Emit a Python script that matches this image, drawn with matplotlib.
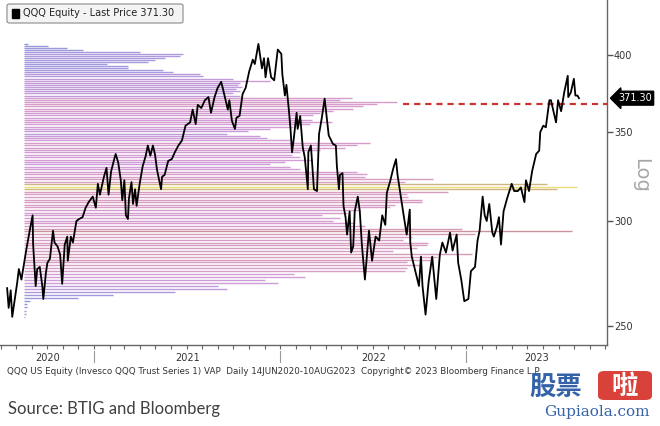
import numpy as np
import pandas as pd
import matplotlib
matplotlib.use("Agg")
import matplotlib.pyplot as plt
import matplotlib.dates as mdates
from matplotlib.colors import LinearSegmentedColormap, Normalize
from matplotlib.patches import FancyBboxPatch, Rectangle
from matplotlib.ticker import NullLocator, FixedLocator

# ----------------------------
# Data
# ----------------------------
price_dates = [
    "2020-07-14", "2020-07-17", "2020-07-21", "2020-07-24", "2020-07-29", "2020-08-03", "2020-08-06", "2020-08-11",
    "2020-08-17", "2020-08-21", "2020-08-28", "2020-09-02", "2020-09-03", "2020-09-08", "2020-09-11", "2020-09-16",
    "2020-09-21", "2020-09-23", "2020-09-28", "2020-10-01", "2020-10-06", "2020-10-12", "2020-10-15", "2020-10-21",
    "2020-10-26", "2020-10-30", "2020-11-04", "2020-11-09", "2020-11-10", "2020-11-16", "2020-11-20", "2020-11-27",
    "2020-12-02", "2020-12-09", "2020-12-15", "2020-12-21", "2020-12-29",
    "2021-01-04", "2021-01-08", "2021-01-12", "2021-01-20", "2021-01-25", "2021-01-29", "2021-02-03", "2021-02-10",
    "2021-02-12", "2021-02-17", "2021-02-22", "2021-02-25", "2021-03-01", "2021-03-04", "2021-03-08", "2021-03-10",
    "2021-03-15", "2021-03-18", "2021-03-22", "2021-03-25", "2021-03-31", "2021-04-06", "2021-04-12", "2021-04-16",
    "2021-04-21", "2021-04-26", "2021-04-30", "2021-05-04", "2021-05-12", "2021-05-14", "2021-05-19", "2021-05-26",
    "2021-06-02", "2021-06-08", "2021-06-15", "2021-06-22", "2021-06-29", "2021-07-08", "2021-07-13", "2021-07-19",
    "2021-07-23", "2021-07-30", "2021-08-06", "2021-08-13", "2021-08-18", "2021-08-25", "2021-08-31", "2021-09-07",
    "2021-09-10", "2021-09-20", "2021-09-23", "2021-09-28", "2021-10-04", "2021-10-07", "2021-10-13", "2021-10-19",
    "2021-10-25", "2021-11-01", "2021-11-08", "2021-11-12", "2021-11-19", "2021-11-26", "2021-11-30", "2021-12-03",
    "2021-12-08", "2021-12-14", "2021-12-20", "2021-12-27",
    "2022-01-03", "2022-01-05", "2022-01-10", "2022-01-13", "2022-01-18", "2022-01-21", "2022-01-24", "2022-01-27",
    "2022-02-02", "2022-02-04", "2022-02-09", "2022-02-14", "2022-02-18", "2022-02-24", "2022-02-25", "2022-03-02",
    "2022-03-08", "2022-03-14", "2022-03-18", "2022-03-23", "2022-03-29", "2022-04-01", "2022-04-06", "2022-04-11",
    "2022-04-14", "2022-04-20", "2022-04-22", "2022-04-26", "2022-04-28", "2022-05-03", "2022-05-05", "2022-05-09",
    "2022-05-12", "2022-05-17", "2022-05-20", "2022-05-24", "2022-05-27", "2022-06-02", "2022-06-06", "2022-06-10",
    "2022-06-16", "2022-06-24", "2022-06-30", "2022-07-07", "2022-07-14", "2022-07-20", "2022-07-26", "2022-07-29",
    "2022-08-05", "2022-08-10", "2022-08-16", "2022-08-19", "2022-08-26", "2022-08-31", "2022-09-06", "2022-09-12",
    "2022-09-13", "2022-09-16", "2022-09-23", "2022-09-30", "2022-10-04", "2022-10-07", "2022-10-13", "2022-10-19",
    "2022-10-26", "2022-11-03", "2022-11-10", "2022-11-15", "2022-11-22", "2022-11-30", "2022-12-05", "2022-12-13",
    "2022-12-16", "2022-12-22", "2022-12-28",
    "2023-01-05", "2023-01-10", "2023-01-18", "2023-01-23", "2023-01-27", "2023-02-02", "2023-02-06", "2023-02-10",
    "2023-02-15", "2023-02-21", "2023-02-24", "2023-03-02", "2023-03-06", "2023-03-10", "2023-03-15", "2023-03-22",
    "2023-03-31", "2023-04-05", "2023-04-12", "2023-04-18", "2023-04-25", "2023-04-28", "2023-05-04", "2023-05-10",
    "2023-05-18", "2023-05-24", "2023-05-26", "2023-06-01", "2023-06-06", "2023-06-13", "2023-06-16", "2023-06-23",
    "2023-06-26", "2023-06-30", "2023-07-06", "2023-07-12", "2023-07-19", "2023-07-20", "2023-07-25", "2023-07-31",
    "2023-08-03", "2023-08-07", "2023-08-10",
]
price_close = [
    267, 258, 266, 254, 262, 270, 276, 271,
    280, 286, 296, 303, 288, 268, 276, 277,
    268, 262, 274, 279, 281, 295, 289, 287,
    283, 269, 288, 292, 280, 292, 289, 300,
    301, 302, 307, 310, 313,
    307, 320, 314, 324, 329, 314, 327, 335,
    337, 332, 322, 311, 322, 303, 301, 312,
    321, 309, 317, 308, 320, 330, 336, 342,
    336, 342, 337, 328, 317, 324, 325, 333,
    334, 338, 342, 345, 354, 356, 364, 355,
    367, 365, 370, 372, 362, 372, 378, 382,
    378, 364, 370, 357, 352, 359, 360, 374,
    378, 389, 397, 394, 408, 391, 398, 385,
    398, 385, 383, 404,
    401, 387, 373, 380, 363, 352, 338, 345,
    362, 352, 360, 341, 335, 317, 338, 342,
    317, 316, 349, 358, 371, 362, 348, 345,
    343, 342, 330, 317, 325, 326, 308, 302,
    293, 305, 284, 287, 305, 313, 305, 288,
    271, 295, 280, 292, 290, 303, 298, 315,
    322, 328, 334, 325, 312, 303, 293, 306,
    289, 282, 275, 268, 282, 268, 255, 270,
    282, 262, 283, 289, 284, 294, 285, 293,
    279, 271, 261,
    262, 275, 277, 290, 295, 313, 303, 300,
    309, 294, 292, 297, 302, 288, 305, 312,
    320, 316, 316, 318, 310, 322, 316, 327,
    337, 339, 350, 354, 353, 370, 370, 360,
    356, 370, 363, 375, 386, 372, 375, 384,
    373, 373, 371.30,
]

last_price = 371.30
level_line = 367.5

# volume-at-price profile: bins of 1.4 from 254.0 upward (bottom to top)
vap_low = 254.0
vap_step = 1.4
vap_volume = [
    1, 2, 2, 3, 3, 6, 54, 89, 151, 203,
    194, 254, 241, 281, 270, 381, 383, 396, 383, 409,
    413, 448, 369, 393, 403, 404, 379, 388, 451, 548,
    438, 341, 331, 309, 316, 298, 323, 336, 366, 371,
    398, 398, 384, 383, 424, 533, 553, 523, 381, 409,
    341, 343, 333, 276, 266, 246, 261, 288, 276, 268,
    276, 296, 321, 333, 346, 266, 243, 236, 203, 224,
    246, 269, 286, 308, 288, 273, 289, 296, 309, 329,
    339, 353, 373, 316, 328, 216, 209, 216, 212, 218,
    214, 216, 246, 209, 179, 176, 149, 139, 104, 104,
    83, 124, 131, 141, 156, 159, 116, 59, 43, 24,
    4,
]

years = ["2020", "2021", "2022", "2023"]
year_starts = ["2021-01-01", "2022-01-01", "2023-01-01"]
y_ticks = [250, 300, 350, 400]

# ----------------------------
# Figure setup (pixel layout 660 x 426)
# ----------------------------
W, H = 660, 426
fig = plt.figure(figsize=(W / 100, H / 100), dpi=100)
ax = fig.add_axes([0, 81 / H, 607 / W, 345 / H])

narrow = ["Liberation Sans Narrow", "DejaVu Sans"]

x_start = pd.Timestamp("2020-06-30")
x_end = pd.Timestamp("2023-10-04")
ax.set_xlim(x_start, x_end)
ax.set_yscale("log")
ax.set_ylim(241.9, 440.3)

# ----------------------------
# Volume at price bars
# ----------------------------
vol = np.array(vap_volume, dtype=float)
vap_price = vap_low + vap_step * np.arange(len(vol))
cmap = LinearSegmentedColormap.from_list(
    "vap", ["#9495dc", "#a99ade", "#d49cd6", "#d89dbf", "#ca939d"])
norm = Normalize(0, 550)
colors = [cmap(norm(v)) for v in vol]
poc = int(np.argmax(vol))
colors[poc] = "#ecdc7a"
colors[poc - 1] = "#d0b482"
colors[poc + 1] = "#d0b482"

bar_x0 = 24 / 607       # bars start a little inside the plot
bar_px = 1 / 607        # one volume unit per pixel
ax.hlines(vap_price, bar_x0, bar_x0 + vol * bar_px, colors=colors, lw=1.0,
          transform=ax.get_yaxis_transform(), zorder=1)

# ----------------------------
# Price line and level
# ----------------------------
dates = pd.to_datetime(price_dates)
ax.plot(dates, price_close, color="black", lw=1.3, zorder=3)

ax.axhline(level_line, xmin=403 / 607, xmax=1, color="#cc3333", lw=1.6,
           dashes=(2.8, 2.2), zorder=2)

# ----------------------------
# Axes styling
# ----------------------------
for side in ["left", "top"]:
    ax.spines[side].set_visible(False)
for side in ["right", "bottom"]:
    ax.spines[side].set_color("#666666")
    ax.spines[side].set_linewidth(1.0)

ax.yaxis.tick_right()
ax.yaxis.set_major_locator(FixedLocator(y_ticks))
ax.yaxis.set_minor_locator(NullLocator())
ax.set_yticklabels([str(t) for t in y_ticks])
ax.tick_params(axis="y", direction="out", length=4, width=1, colors="#555555",
               labelcolor="#333333", labelsize=7, pad=1)
for lab in ax.get_yticklabels():
    lab.set_family(narrow)

ax.xaxis.set_major_locator(mdates.MonthLocator())
ax.xaxis.set_minor_locator(NullLocator())
ax.tick_params(axis="x", direction="out", length=3, width=0.8, colors="#666666",
               labelbottom=False)

# year separators and labels under the axis
xt = ax.get_xaxis_transform()
bounds = [mdates.date2num(x_start)] + [mdates.date2num(pd.Timestamp(d)) for d in year_starts] \
    + [mdates.date2num(x_end)]
for d in year_starts:
    xd = mdates.date2num(pd.Timestamp(d))
    ax.plot([xd, xd], [-0.016, -0.05], transform=xt, color="#9a9a9a", lw=0.8, clip_on=False)
for i, yr in enumerate(years):
    ax.text((bounds[i] + bounds[i + 1]) / 2, -0.037, yr, transform=xt, ha="center",
            va="center", fontsize=7, color="#333333", family=narrow)

# last price tag
ax.text(1.018, last_price, "371.30", transform=ax.get_yaxis_transform(), color="white",
        fontsize=7, va="center", ha="left", family=narrow,
        bbox=dict(boxstyle="larrow,pad=0.2", fc="black", ec="black"))

fig.text(641 / W, 1 - 175 / H, "Log", rotation=270, color="#a8a8a8", fontsize=14,
         ha="center", va="center")

# ----------------------------
# Legend box
# ----------------------------
fig.add_artist(FancyBboxPatch((7 / W, 1 - 23 / H), 176 / W, 19 / H,
                              boxstyle="round,pad=0,rounding_size=0.004",
                              transform=fig.transFigure, fc="#f4f4f4", ec="#8a8a8a", lw=0.8))
fig.add_artist(Rectangle((12 / W, 1 - 17.5 / H), 7 / W, 8 / H, transform=fig.transFigure,
                         fc="black", ec="black"))
fig.text(23 / W, 1 - 13.5 / H, "QQQ Equity - Last Price 371.30", fontsize=7,
         color="#222222", va="center", ha="left", family=narrow)

# ----------------------------
# Footer
# ----------------------------
fig.text(7 / W, 1 - 371 / H,
         "QQQ US Equity (Invesco QQQ Trust Series 1) VAP  Daily 14JUN2020-10AUG2023  "
         "Copyright\u00a9 2023 Bloomberg Finance L.P.",
         fontsize=6.3, color="#333333", va="center", ha="left", family=narrow)
fig.text(8 / W, 1 - 409 / H, "Source: BTIG and Bloomberg", fontsize=12,
         color="#404040", va="center", ha="left", family=["Lato", "DejaVu Sans"])

# watermark
fig.text(556 / W, 1 - 388 / H, "股票", fontsize=19, color="#3563a8", weight="bold",
         ha="center", va="center", family=["Noto Sans CJK SC", "DejaVu Sans"], zorder=5)
fig.add_artist(FancyBboxPatch((598 / W, 1 - 400 / H), 54 / W, 29 / H,
                              boxstyle="round,pad=0,rounding_size=0.01",
                              transform=fig.transFigure, fc="#d9423a", ec="none", zorder=5))
fig.text(625 / W, 1 - 386 / H, "啦", fontsize=19, color="white", weight="bold",
         ha="center", va="center", family=["Noto Sans CJK SC", "DejaVu Sans"], zorder=6)
fig.text(597 / W, 1 - 412 / H, "Gupiaola.com", fontsize=11, color="#3563a8",
         ha="center", va="center", family=["DejaVu Serif"], zorder=5)

fig.savefig("out.png", dpi=100)
